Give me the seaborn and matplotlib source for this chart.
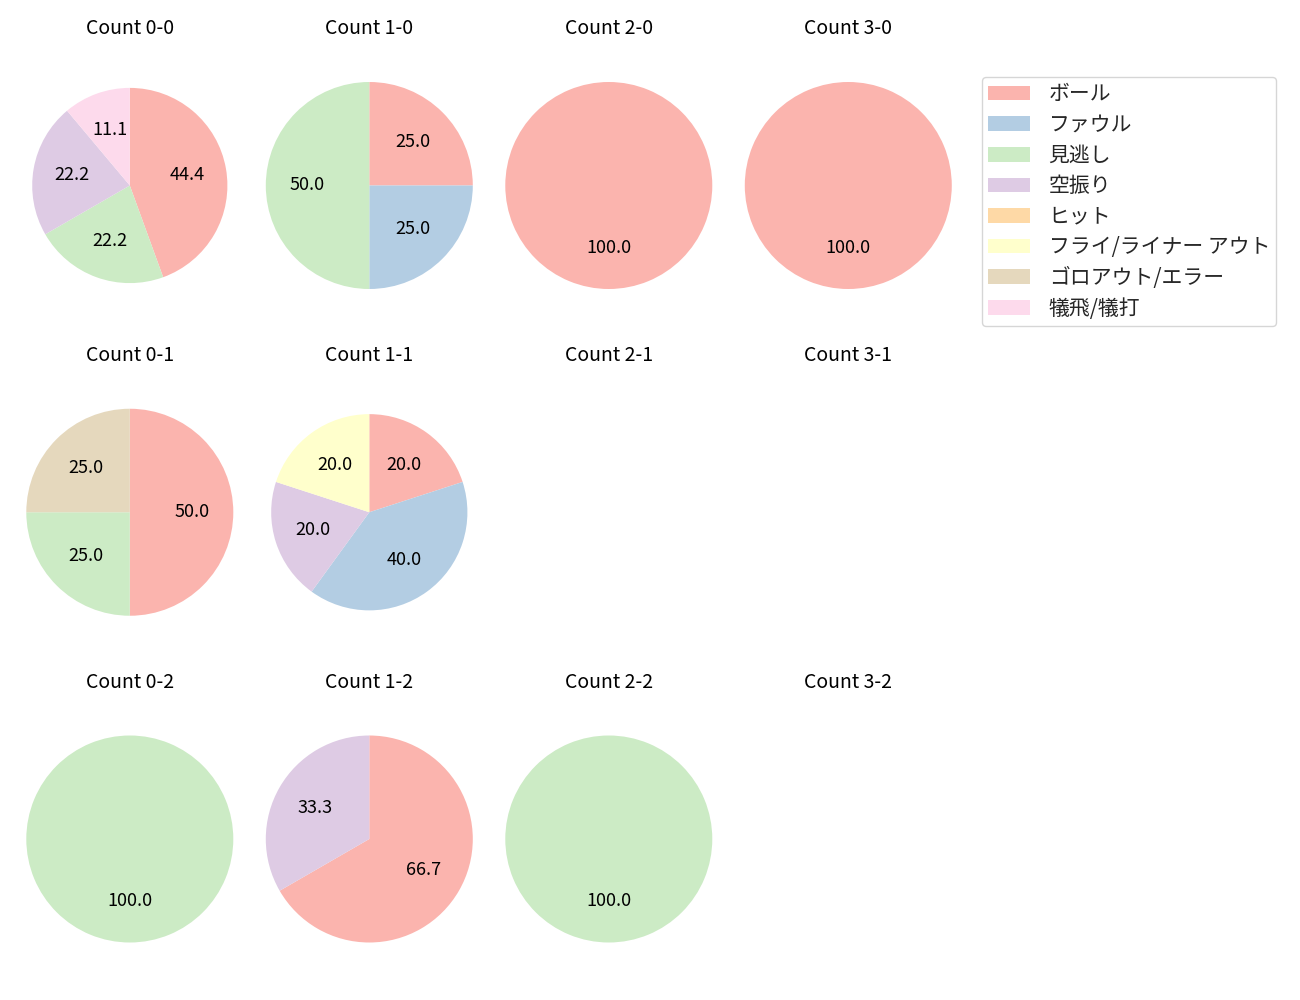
import matplotlib
matplotlib.use("Agg")
import matplotlib.pyplot as plt
import seaborn as sns
from matplotlib.patches import Patch

sns.set_theme(style="white")
plt.rcParams['font.family'] = ['Noto Sans CJK JP', 'DejaVu Sans']

categories = ["ボール", "ファウル", "見逃し", "空振り", "ヒット",
              "フライ/ライナー アウト", "ゴロアウト/エラー", "犠飛/犠打"]

counts_labels = ["0-0", "1-0", "2-0", "3-0",
                 "0-1", "1-1", "2-1", "3-1",
                 "0-2", "1-2", "2-2", "3-2"]

# pitch result counts per ball-strike count (order follows categories)
v_0_0 = [4, 0, 2, 2, 0, 0, 0, 1]
v_1_0 = [1, 1, 2, 0, 0, 0, 0, 0]
v_2_0 = [1, 0, 0, 0, 0, 0, 0, 0]
v_3_0 = [1, 0, 0, 0, 0, 0, 0, 0]
v_0_1 = [2, 0, 1, 0, 0, 0, 1, 0]
v_1_1 = [1, 2, 0, 1, 0, 1, 0, 0]
v_2_1 = [0, 0, 0, 0, 0, 0, 0, 0]
v_3_1 = [0, 0, 0, 0, 0, 0, 0, 0]
v_0_2 = [0, 0, 1, 0, 0, 0, 0, 0]
v_1_2 = [2, 0, 0, 1, 0, 0, 0, 0]
v_2_2 = [0, 0, 1, 0, 0, 0, 0, 0]
v_3_2 = [0, 0, 0, 0, 0, 0, 0, 0]

values = [v_0_0, v_1_0, v_2_0, v_3_0,
          v_0_1, v_1_1, v_2_1, v_3_1,
          v_0_2, v_1_2, v_2_2, v_3_2]

# drawn size of each pie (style)
pie_radius = [0.943, 1.0, 1.0, 1.0,
              1.0, 0.948, 1.0, 1.0,
              1.0, 1.0, 1.0, 1.0]

colors = sns.color_palette("Pastel1", len(categories))

fig, axes = plt.subplots(3, 4, figsize=(13, 10), dpi=100)
fig.subplots_adjust(left=0.01227, right=0.7401, top=0.9575, bottom=0.018,
                    wspace=0.0518, hspace=0.1425)

for ax, lab, vals, rad in zip(axes.flat, counts_labels, values, pie_radius):
    ax.set_title(f"Count {lab}", fontsize=14, color="black")
    if sum(vals) == 0:
        ax.axis("off")
        continue
    sel = [(v, c) for v, c in zip(vals, colors) if v > 0]
    ax.pie([s[0] for s in sel], colors=[s[1] for s in sel],
           autopct="%.1f", startangle=90, counterclock=False, radius=rad,
           pctdistance=0.6,
           wedgeprops={"linewidth": 0, "edgecolor": "none"},
           textprops={"fontsize": 13, "color": "black"})
    ax.set_xlim(-1.1, 1.1)
    ax.set_ylim(-1.1, 1.1)
    ax.set_aspect("equal", adjustable="datalim")

handles = [Patch(facecolor=c, edgecolor="none", label=n)
           for c, n in zip(colors, categories)]
fig.legend(handles=handles, loc="upper left",
           bbox_to_anchor=(982 / 1300, 1 - 77 / 1000), borderaxespad=0,
           fontsize=15, labelspacing=0.414, borderpad=0.3,
           handletextpad=0.9, frameon=True)

fig.savefig("out.png", dpi=100)
